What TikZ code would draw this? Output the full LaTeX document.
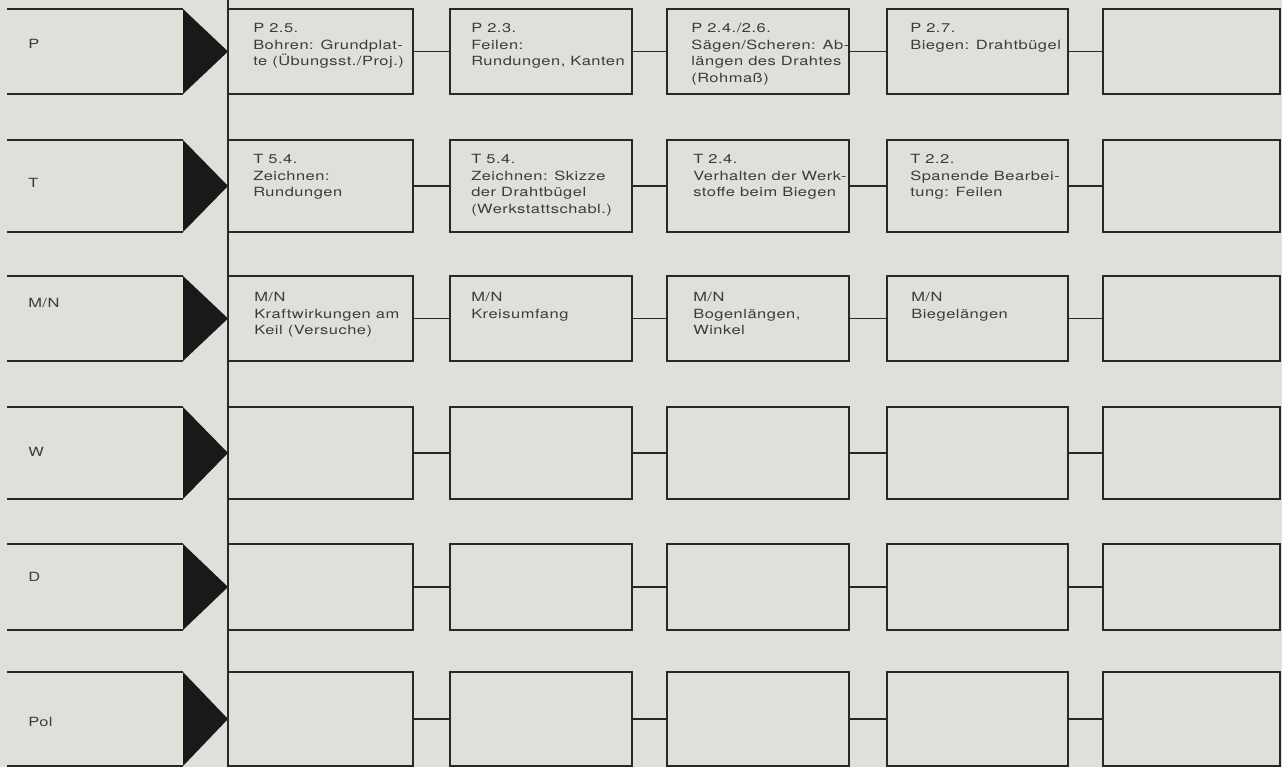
\documentclass[tikz,border=0pt]{standalone}
\usepackage{fontspec}
\setmainfont{TeX Gyre Heros}[FakeStretch=1.3,LetterSpace=4]
\definecolor{paper}{RGB}{224,224,218}
\definecolor{ink}{RGB}{40,40,40}
\definecolor{txtc}{RGB}{60,60,60}
\tikzset{
  ln/.style={draw=ink,line width=1.3pt},
  tri/.style={fill=black!90},
  box/.style={draw=ink,line width=1.3pt,rectangle,anchor=north west,inner sep=0pt,outer sep=0pt},
  txt/.style={anchor=north west,inner sep=0pt,align=left,text=txtc,font=\fontsize{9.5}{12.5}\selectfont},
  lab/.style={anchor=west,inner sep=0pt,text=txtc,font=\fontsize{9.5}{12.5}\selectfont}
}
\newcommand\rowlab[5]{%
  \fill[tri] (183,#2) -- (228,{(#2+#3)/2}) -- (183,#3) -- cycle;
  \draw[ln] (7,#2) -- (183,#2);
  \draw[ln] (7,#3) -- (183,#3);
  \node[lab] (#1) at (28,#4) {#5};
}
\begin{document}
\begin{tikzpicture}[x=0.75pt,y=-0.75pt]
\fill[paper] (0,0) rectangle (1282,767);
\useasboundingbox (0,0) rectangle (1282,767);
% left row labels
\rowlab{lP}{9}{94}{44}{P}
\rowlab{lT}{140}{232}{183}{T}
\rowlab{lMN}{276}{361}{303}{M/N}
\rowlab{lW}{407}{499}{452}{W}
\rowlab{lD}{544}{630}{577}{D}
\rowlab{lPol}{672}{766}{722}{Pol}
% vertical bar
\coordinate (vtop) at (228,0);
\coordinate (vbot) at (228,767);
\draw[ln] (vtop) -- (vbot);
% boxes
\foreach \r/\t/\b in {1/9/94,2/140/232,3/276/361,4/407/499,5/544/630,6/672/766}{
  \foreach \c/\l/\rr in {1/228/413,2/450/632,3/667/849,4/887/1068,5/1103/1280}{
    \node[box,minimum width={(\rr-\l)*0.75pt},minimum height={(\b-\t)*0.75pt}] (b\r\c) at (\l,\t) {};
  }
}
% connectors
\foreach \r in {1,...,6}{
  \foreach \c [evaluate=\c as \n using int(\c+1)] in {1,...,4}{
    \draw[ln] (b\r\c.east) -- (b\r\n.west);
  }
}
% texts
\node[txt] (t11) at (253,23) {P 2.5.\\Bohren: Grundplat-\\te (Übungsst./Proj.)};
\node[txt] (t12) at (471,23) {P 2.3.\\Feilen:\\Rundungen, Kanten};
\node[txt] (t13) at (691,23) {P 2.4./2.6.\\Sägen/Scheren: Ab-\\längen des Drahtes\\(Rohmaß)};
\node[txt] (t14) at (910,23) {P 2.7.\\Biegen: Drahtbügel};
\node[txt] (t21) at (253,154) {T 5.4.\\Zeichnen:\\Rundungen};
\node[txt] (t22) at (471,154) {T 5.4.\\Zeichnen: Skizze\\der Drahtbügel\\(Werkstattschabl.)};
\node[txt] (t23) at (693,154) {T 2.4.\\Verhalten der Werk-\\stoffe beim Biegen};
\node[txt] (t24) at (910,154) {T 2.2.\\Spanende Bearbei-\\tung: Feilen};
\node[txt] (t31) at (254,292) {M/N\\Kraftwirkungen am\\Keil (Versuche)};
\node[txt] (t32) at (471,292) {M/N\\Kreisumfang};
\node[txt] (t33) at (693,292) {M/N\\Bogenlängen,\\Winkel};
\node[txt] (t34) at (911,292) {M/N\\Biegelängen};
\end{tikzpicture}
\end{document}
